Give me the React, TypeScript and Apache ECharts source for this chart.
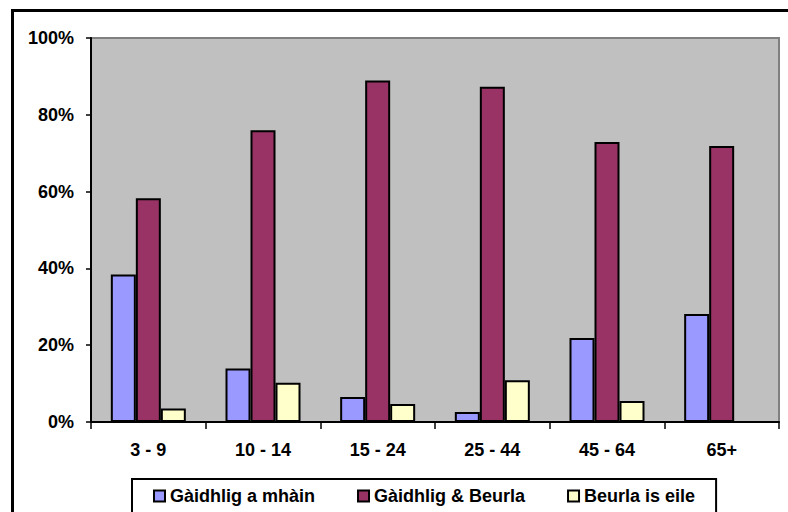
import React, { useEffect, useRef } from "react";
import * as echarts from "echarts";

const categories = ["3 - 9", "10 - 14", "15 - 24", "25 - 44", "45 - 64", "65+"];
const seriesNames = ["Gàidhlig a mhàin", "Gàidhlig & Beurla", "Beurla is eile"];
const gaidhligOnly = [38.4, 13.9, 6.5, 2.6, 21.9, 28.1];
const gaidhligBeurla = [58.3, 76.0, 88.9, 87.3, 72.9, 71.9];
const beurlaEile = [3.5, 10.2, 4.7, 10.9, 5.5, 0];
const colors = ["#9999FF", "#993366", "#FFFFCC"];

const FONT = "'Liberation Sans', Arial, sans-serif";

export default function App() {
  const ref = useRef<HTMLDivElement>(null);
  useEffect(() => {
    if (!ref.current) return;
    const chart = echarts.init(ref.current, null, { renderer: "svg" });
    const data = [gaidhligOnly, gaidhligBeurla, beurlaEile];
    chart.setOption({
      animation: false,
      backgroundColor: "#ffffff",
      textStyle: { fontFamily: FONT },
      graphic: [
        {
          type: "rect",
          shape: { x: 12.5, y: 10.5, width: 820, height: 540 },
          style: { fill: "none", stroke: "#000", lineWidth: 3 },
          z: 100,
        },
      ],
      grid: {
        left: 91,
        top: 38,
        right: 9,
        bottom: 90,
        show: true,
        backgroundColor: "#c0c0c0",
        borderColor: "#808080",
        borderWidth: 2,
      },
      legend: {
        left: 132,
        top: 479,
        padding: [8, 21, 8, 21],
        borderColor: "#000",
        borderWidth: 2,
        itemWidth: 11,
        itemHeight: 11,
        itemGap: 42,
        icon: "rect",
        textStyle: { fontFamily: FONT, fontWeight: "bold", fontSize: 18, color: "#000" },
        data: seriesNames,
      },
      xAxis: {
        type: "category",
        data: categories,
        axisLine: { lineStyle: { color: "#000", width: 2 } },
        axisTick: { show: true, length: 7, lineStyle: { color: "#000", width: 1.5 } },
        axisLabel: { fontFamily: FONT, fontWeight: "bold", fontSize: 18, color: "#000", margin: 19 },
        splitLine: { show: false },
      },
      yAxis: {
        type: "value",
        min: 0,
        max: 100,
        interval: 20,
        axisLine: { show: true, lineStyle: { color: "#000", width: 2 } },
        axisTick: { show: true, length: 5, lineStyle: { color: "#000", width: 1.5 } },
        axisLabel: {
          formatter: "{value}%",
          fontFamily: FONT,
          fontWeight: "bold",
          fontSize: 18,
          color: "#000",
          margin: 17,
        },
        splitLine: { show: false },
      },
      series: seriesNames.map((name, i) => ({
        name,
        type: "bar",
        data: data[i],
        barWidth: 25,
        barGap: "0%",
        itemStyle: { color: colors[i], borderColor: "#000", borderWidth: 2 },
      })),
    });
    return () => chart.dispose();
  }, []);
  return (
    <div
      ref={ref}
      style={{ position: "absolute", left: 0, top: 0, width: 788, height: 512 }}
    />
  );
}
